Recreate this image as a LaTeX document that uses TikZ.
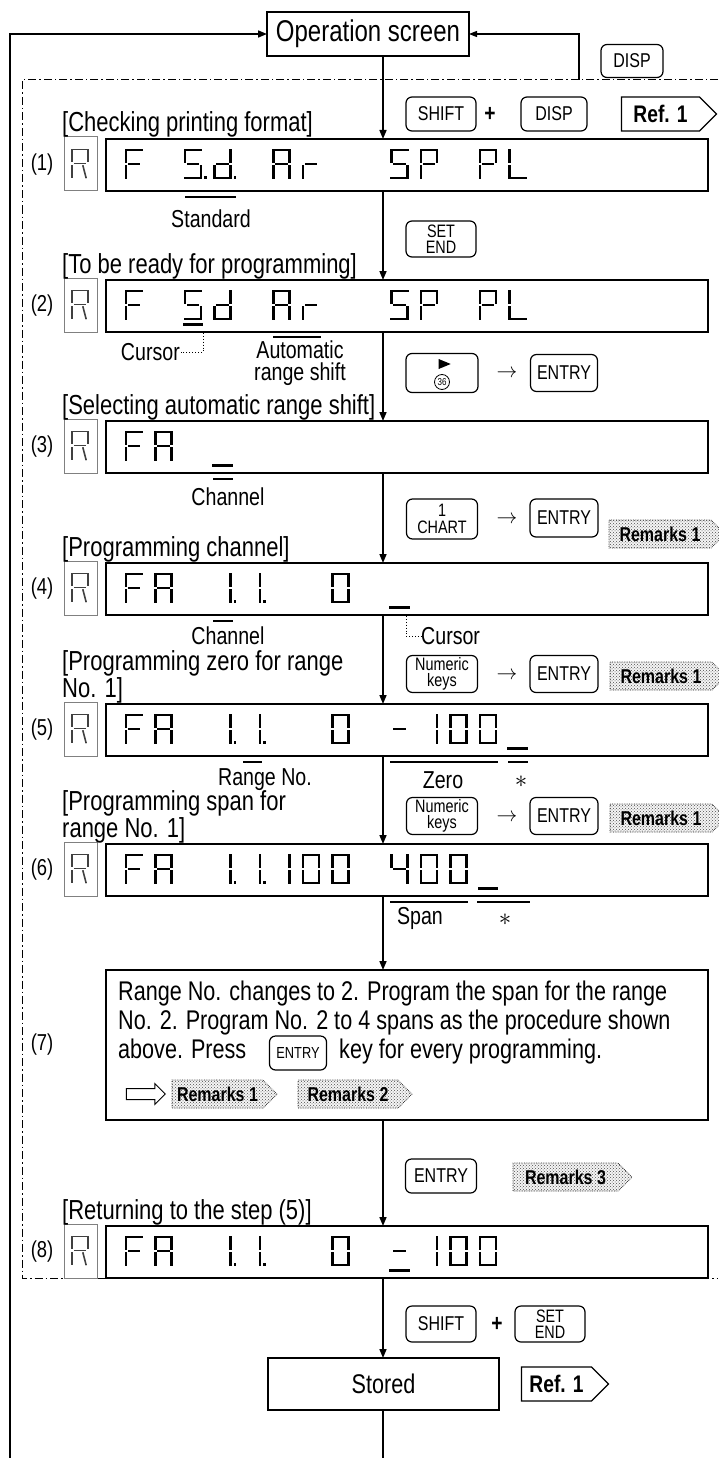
\documentclass[tikz,border=0pt]{standalone}
\usepackage{fontspec}
\setmainfont{Liberation Sans}[FakeStretch=0.8]
\usetikzlibrary{arrows.meta, positioning, calc, shapes.geometric, shapes.symbols, shapes.arrows, patterns}

\newcommand{\fsize}[1]{\fontsize{#1}{#1}\selectfont}

% segments of one display character (cell 16 x 28, y downwards)
\tikzset{
  seg a/.style={insert path={(0,0) -- (16,0)}},
  seg b/.style={insert path={(16,0) -- (16,11.5)}},
  seg c/.style={insert path={(16,16.5) -- (16,28)}},
  seg d/.style={insert path={(0,28) -- (16,28)}},
  seg e/.style={insert path={(0,16.5) -- (0,28)}},
  seg f/.style={insert path={(0,0) -- (0,11.5)}},
  seg g/.style={insert path={(3,14) -- (13,14)}},
  seg p/.style={insert path={(20.5,27) -- (20.5,28)}},
  seg u/.style={insert path={(-1,33.5) -- (17,33.5)}},
  seg k/.style={insert path={(11,16.5) -- (14,28)}},
  lcdseg/.style={line width=2.4pt, line cap=rect},
  rseg/.style={line width=1.6pt, line cap=rect, black!75},
}
\newcommand{\segF}{a,e,f,g}
\newcommand{\segA}{a,b,c,e,f,g}
\newcommand{\segS}{a,c,d,f,g}
\newcommand{\segd}{b,c,d,e,g}
\newcommand{\segr}{e,g}
\newcommand{\segP}{a,b,e,f,g}
\newcommand{\segL}{d,e,f}
\newcommand{\segI}{b,c}
\newcommand{\segO}{a,b,c,d,e,f}
\newcommand{\segIV}{b,c,f,g}

% character #3 in cell #2 of display #1
\newcommand{\lcd}[3]{%
  \begin{scope}[shift={($(#1.north west)+({20+29.5*#2},11)$)}]
    \edef\seglist{#3}%
    \foreach \s in \seglist {\edef\segcmd{\noexpand\draw[lcdseg, seg \s];}\segcmd}
  \end{scope}}
% mode letter in the small box
\newcommand{\rglyph}[1]{%
  \begin{scope}[shift={($(#1.north west)+(8.5,13)$)}]
    \foreach \s in {a,b,f,g,e,k} {\edef\segcmd{\noexpand\draw[rseg, seg \s];}\segcmd}
  \end{scope}}

\begin{document}
\begin{tikzpicture}[x=1pt, y=-1pt,
  procbox/.style={draw, line width=1.8pt, inner sep=0pt, outer sep=0pt},
  lcdbox/.style={draw, line width=2pt, minimum width=602pt, minimum height=52pt, inner sep=0pt, outer sep=0pt},
  rbox/.style={draw=black!50, line width=1pt, minimum width=33pt, minimum height=54pt, inner sep=0pt},
  keybox/.style={draw, rounded corners=6pt, line width=1.2pt, minimum width=70pt, minimum height=35pt, inner sep=1pt, align=center, font=\fsize{20}},
  keytwo/.style={keybox, font={\fontsize{18}{16.5}\selectfont}},
  remark/.style={signal, signal to=east, draw=black!85, densely dotted, line width=0.7pt, preaction={fill=black!4}, pattern=crosshatch dots, pattern color=black!70, minimum height=28pt, minimum width=116pt, inner sep=2pt, font=\fsize{20}\bfseries},
  refbox/.style={signal, signal to=east, draw, line width=1.2pt, fill=white, minimum height=34pt, inner sep=3pt, font=\fsize{24}\bfseries},
  stepno/.style={font=\fsize{23}, inner sep=0pt},
  caption/.style={font=\fsize{27.5}, anchor=base west, inner sep=0pt},
  note/.style={font=\fsize{24.5}, inner sep=0pt},
  boxtext/.style={font=\fsize{27}, anchor=base west, inner sep=0pt},
  flow/.style={line width=1.6pt},
  arrow/.style={flow, -{Triangle[length=9pt, width=7pt]}},
  markline/.style={line width=1.3pt},
  leader/.style={dotted, line width=0.9pt},
  frame/.style={line width=1pt, dash pattern=on 8pt off 3pt on 1.5pt off 3pt},
]
\useasboundingbox (0,0) rectangle (718,1458);

% programming frame
\draw[frame] (718,80) -- (22,80) -- (22,1278) -- (718,1278);

% operation screen and return lines
\node[procbox, minimum width=202pt, minimum height=44pt, font=\fsize{30}] (oper) at (368,34) {Operation screen};
\coordinate (col) at (383,0);
\coordinate (lbot) at (10,1458);
\coordinate (ret) at (579,80);
\draw[arrow] (lbot) |- (oper.west);
\draw[line width=1.2pt, -{Triangle[length=8pt, width=6pt]}] (ret) |- (oper.east);
\node[keybox, minimum width=62pt, minimum height=33pt] (k0) at (632,61) {DISP};

% displays, mode boxes and step numbers
\foreach \n/\y in {1/165, 2/306, 3/447, 4/589, 5/730, 6/870, 8/1252} {
  \node[lcdbox] (d\n) at (407,\y) {};
  \node[rbox] (r\n) at (80.5,{\y-1}) {};
  \node[stepno] (n\n) at (42,\y) {(\n)};
  \rglyph{r\n}
}
\node[stepno] (n7) at (42,1045) {(7)};

% captions
\node[caption] (c1) at (62,132) {[Checking printing format]};
\node[caption] (c2) at (62,273) {[To be ready for programming]};
\node[caption] (c3) at (62,414) {[Selecting automatic range shift]};
\node[caption] (c4) at (62,556) {[Programming channel]};
\node[caption] (c5a) at (62,670) {[Programming zero for range};
\node[caption] (c5b) at (62,697) {No. 1]};
\node[caption] (c6a) at (62,810) {[Programming span for};
\node[caption] (c6b) at (62,837) {range No. 1]};
\node[caption] (c8) at (62,1219) {[Returning to the step (5)]};

% display contents
\lcd{d1}{0}{\segF} \lcd{d1}{2}{\segS,p} \lcd{d1}{3}{\segd,p}
\lcd{d1}{5}{\segA} \lcd{d1}{6}{\segr} \lcd{d1}{9}{\segS} \lcd{d1}{10}{\segP}
\lcd{d1}{12}{\segP} \lcd{d1}{13}{\segL}

\lcd{d2}{0}{\segF} \lcd{d2}{2}{\segS,u} \lcd{d2}{3}{\segd}
\lcd{d2}{5}{\segA} \lcd{d2}{6}{\segr} \lcd{d2}{9}{\segS} \lcd{d2}{10}{\segP}
\lcd{d2}{12}{\segP} \lcd{d2}{13}{\segL}

\lcd{d3}{0}{\segF} \lcd{d3}{1}{\segA} \lcd{d3}{3}{u}

\lcd{d4}{0}{\segF} \lcd{d4}{1}{\segA} \lcd{d4}{3}{\segI,p} \lcd{d4}{4}{\segI,p}
\lcd{d4}{7}{\segO} \lcd{d4}{9}{u}

\lcd{d5}{0}{\segF} \lcd{d5}{1}{\segA} \lcd{d5}{3}{\segI,p} \lcd{d5}{4}{\segI,p}
\lcd{d5}{7}{\segO} \lcd{d5}{9}{g} \lcd{d5}{10}{\segI} \lcd{d5}{11}{\segO}
\lcd{d5}{12}{\segO} \lcd{d5}{13}{u}

\lcd{d6}{0}{\segF} \lcd{d6}{1}{\segA} \lcd{d6}{3}{\segI,p} \lcd{d6}{4}{\segI,p}
\lcd{d6}{5}{\segI} \lcd{d6}{6}{\segO} \lcd{d6}{7}{\segO} \lcd{d6}{9}{\segIV}
\lcd{d6}{10}{\segO} \lcd{d6}{11}{\segO} \lcd{d6}{12}{u}

\lcd{d8}{0}{\segF} \lcd{d8}{1}{\segA} \lcd{d8}{3}{\segI,p} \lcd{d8}{4}{\segI,p}
\lcd{d8}{7}{\segO} \lcd{d8}{9}{g,u} \lcd{d8}{10}{\segI} \lcd{d8}{11}{\segO}
\lcd{d8}{12}{\segO}

% marks under the displays
\draw[markline] (185,197) -- (236,197);
\node[note] (std) at (211,219) {Standard};
\coordinate (cur2m) at (203,333);
\node[note, anchor=east] (cur2) at (180,352) {Cursor};
\draw[leader] (cur2m) |- (cur2.east);
\draw[markline] (273,337) -- (321,337);
\node[note, align=center, font={\fontsize{24.5}{22}\selectfont}] (ars) at (300,363) {Automatic\\range shift};
\draw[markline] (213,479) -- (233,479);
\node[note] (ch3) at (228,497) {Channel};
\draw[markline] (213,621) -- (233,621);
\node[note] (ch4) at (228,636) {Channel};
\coordinate (cur4m) at (406,616);
\node[note, anchor=west] (cur4) at (421,636) {Cursor};
\draw[leader] (cur4m) |- (cur4.west);
\draw[markline] (243,762) -- (262,762);
\node[note, anchor=east] (rng) at (312,780) {Range No.};
\draw[markline] (390,762) -- (498,762);
\node[note] (zero) at (443,780) {Zero};
\draw[markline] (508,762) -- (528,762);
\node[note] (st5) at (521,782) {$\ast$};
\draw[markline] (390,902) -- (468,902);
\node[note] (span) at (420,918) {Span};
\draw[markline] (477,902) -- (530,902);
\node[note] (st6) at (505,920) {$\ast$};

% keys, row by row
\node[keybox, minimum height=34pt] (k1a) at (441,114) {SHIFT};
\node[font=\fsize{24}\bfseries, inner sep=0pt] (p1) at (490,114) {+};
\node[keybox, minimum width=66pt, minimum height=34pt] (k1b) at (554,114) {DISP};
\node[refbox, minimum width=95pt] (ref1) at (660.5,114) {Ref. 1};

\node[keytwo, minimum height=36pt] (k2) at (441,239) {SET\\END};

\node[keybox, minimum width=72pt, minimum height=39pt] (k3a) at (442,373) {};
\node[isosceles triangle, fill, inner sep=0pt, minimum height=9pt, minimum width=10pt] (tri) at (442,364) {};
\node[circle, draw, line width=0.8pt, inner sep=0pt, minimum size=15pt, font=\fsize{10}] (c36) at (442,382) {36};
\node[font=\fsize{22}, inner sep=0pt] (a3) at (507,374) {$\rightarrow$};
\node[keybox, minimum width=67pt, minimum height=37pt] (k3b) at (564,373) {ENTRY};

\node[keytwo, minimum width=71pt, minimum height=40pt] (k4a) at (442,519) {1\\CHART};
\node[font=\fsize{22}, inner sep=0pt] (a4) at (507,520) {$\rightarrow$};
\node[keybox, minimum width=68pt, minimum height=38pt] (k4b) at (564,518) {ENTRY};
\node[remark] (rem4) at (660,534) {Remarks 1};

\node[keytwo, minimum width=71pt, minimum height=37pt] (k5a) at (442,674) {Numeric\\keys};
\node[font=\fsize{22}, inner sep=0pt] (a5) at (507,676) {$\rightarrow$};
\node[keybox, minimum width=68pt, minimum height=37pt] (k5b) at (564,674) {ENTRY};
\node[remark] (rem5) at (661,676) {Remarks 1};

\node[keytwo, minimum width=71pt, minimum height=37pt] (k6a) at (442,816) {Numeric\\keys};
\node[font=\fsize{22}, inner sep=0pt] (a6) at (507,818) {$\rightarrow$};
\node[keybox, minimum width=68pt, minimum height=37pt] (k6b) at (564,816) {ENTRY};
\node[remark] (rem6) at (661,818) {Remarks 1};

% step (7)
\node[procbox, line width=2pt, minimum width=602pt, minimum height=150pt] (b7) at (407,1045) {};
\node[boxtext] (t7a) at (118,1000) {Range No. changes to 2. Program the span for the range};
\node[boxtext] (t7b) at (118,1029) {No. 2. Program No. 2 to 4 spans as the procedure shown};
\node[boxtext] (t7c) at (118,1058) {above. Press};
\node[keybox, minimum width=57pt, minimum height=34pt, font=\fsize{16}] (k7) at (298,1053) {ENTRY};
\node[boxtext] (t7d) at (339,1058) {key for every programming.};
\node[single arrow, draw, line width=1pt, minimum height=39pt, inner xsep=0pt, inner ysep=5pt, single arrow head extend=5pt] (h7) at (143,1094) {};
\node[remark, minimum width=105pt] (rem7a) at (217.5,1094) {Remarks 1};
\node[remark, minimum width=114pt] (rem7b) at (348,1094) {Remarks 2};

\node[keybox, minimum width=71pt, minimum height=34pt] (k8) at (441,1176) {ENTRY};
\node[remark, minimum width=119pt] (rem8) at (565.5,1177) {Remarks 3};

\node[keybox, minimum height=36pt] (k9a) at (441,1324) {SHIFT};
\node[font=\fsize{24}\bfseries, inner sep=0pt] (p9) at (497,1324) {+};
\node[keytwo, minimum height=36pt] (k9b) at (550,1324) {SET\\END};

% stored
\node[procbox, minimum width=231pt, minimum height=52pt, font=\fsize{27}] (stored) at (383.5,1384) {Stored};
\node[refbox, minimum width=87pt] (ref9) at (556.5,1384) {Ref. 1};
\coordinate (sbot) at (383,1458);

% main flow
\draw[arrow] (oper.south -| col) -- (d1.north -| col);
\draw[arrow] (d1.south -| col) -- (d2.north -| col);
\draw[arrow] (d2.south -| col) -- (d3.north -| col);
\draw[arrow] (d3.south -| col) -- (d4.north -| col);
\draw[arrow] (d4.south -| col) -- (d5.north -| col);
\draw[arrow] (d5.south -| col) -- (d6.north -| col);
\draw[arrow] (d6.south -| col) -- (b7.north -| col);
\draw[arrow] (b7.south -| col) -- (d8.north -| col);
\draw[arrow] (d8.south -| col) -- (stored.north -| col);
\draw[flow] (stored.south -| col) -- (sbot);
\end{tikzpicture}
\end{document}
